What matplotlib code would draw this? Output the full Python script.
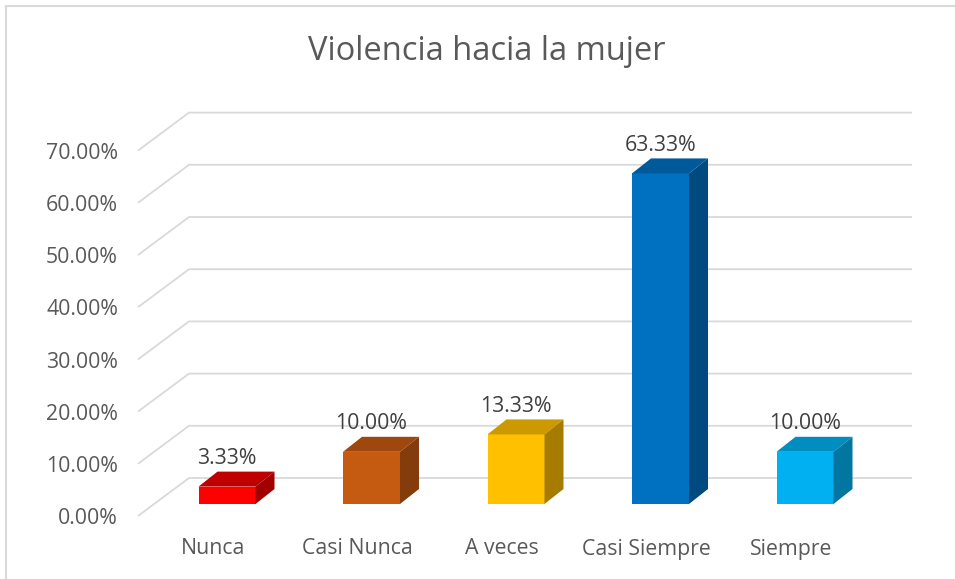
import numpy as np
import matplotlib.pyplot as plt
from matplotlib.patches import Polygon

# data
categories = ["Nunca", "Casi Nunca", "A veces", "Casi Siempre", "Siempre"]
values = [3.33, 10.00, 13.33, 63.33, 10.00]
ticks = [0, 10, 20, 30, 40, 50, 60, 70]
front_colors = ["#FF0000", "#C55A11", "#FFC000", "#0070C0", "#00B0F0"]
top_colors = ["#C00000", "#9E480E", "#CC9A00", "#005A9A", "#008DC0"]
side_colors = ["#A00000", "#843C0C", "#A67C00", "#004A80", "#0076A0"]

# layout (data units: x = category index, y = percent)
W, H = 955, 579
PX_CAT = 144.5      # pixels per category
PX_PCT = 5.22       # pixels per percent
X0, Y0 = 227, 504   # pixel of category 0 / value 0 on the bar front plane
DX, DY = 19 / PX_CAT, 15 / PX_PCT   # bar depth offset
HALF = 28.5 / PX_CAT

fig = plt.figure(figsize=(W / 100, H / 100), dpi=100)
ax = fig.add_axes([0, 0, 1, 1])
ax.set_xlim(-X0 / PX_CAT, (W - X0) / PX_CAT)
ax.set_ylim((Y0 - H) / PX_PCT, Y0 / PX_PCT)
ax.axis("off")

font = "Open Sans"
grid_c = "#D9D9D9"
fs = 15.3

# back wall + floor grid
x_front = (138 - X0) / PX_CAT
x_back = (189 - X0) / PX_CAT
x_right = (912 - X0) / PX_CAT
back_off = 26 / PX_PCT
front_off = -12 / PX_PCT
for t in ticks:
    ax.plot([x_front, x_back, x_right], [t + front_off, t + back_off, t + back_off],
            color=grid_c, lw=1.3, solid_capstyle="butt", zorder=1)
    ax.text((118 - X0) / PX_CAT, t + front_off - 0.5, f"{t:.2f}%", ha="right", va="center",
            fontsize=fs, color="#595959", family=font)

# bars
for i, v in enumerate(values):
    l, r = i - HALF, i + HALF
    front = Polygon([(l, 0), (r, 0), (r, v), (l, v)], closed=True,
                    facecolor=front_colors[i], edgecolor="none", zorder=3)
    top = Polygon([(l, v), (r, v), (r + DX, v + DY), (l + DX, v + DY)], closed=True,
                  facecolor=top_colors[i], edgecolor="none", zorder=3)
    side = Polygon([(r, 0), (r + DX, DY), (r + DX, v + DY), (r, v)], closed=True,
                   facecolor=side_colors[i], edgecolor="none", zorder=3)
    for p in (front, top, side):
        ax.add_patch(p)
    ax.text(i, v + DY + 0.5, f"{v:.2f}%", ha="center", va="bottom",
            fontsize=fs, color="#404040", family=font, zorder=4)
    ax.text(i - 14 / PX_CAT, (Y0 - 549) / PX_PCT, categories[i], ha="center", va="center",
            fontsize=fs, color="#595959", family=font)

# title
ax.text((487 - X0) / PX_CAT, (Y0 - 52) / PX_PCT, "Violencia hacia la mujer", ha="center",
        va="center", fontsize=23.5, color="#595959", family=font)

# chart border (top and left edges visible)
ax.plot([(6 - X0) / PX_CAT, (W - X0) / PX_CAT], [(Y0 - 6) / PX_PCT] * 2, color=grid_c, lw=1.5)
ax.plot([(6 - X0) / PX_CAT] * 2, [(Y0 - 6) / PX_PCT, (Y0 - H) / PX_PCT], color=grid_c, lw=1.5)

fig.savefig("out.png", dpi=100, facecolor="white")
